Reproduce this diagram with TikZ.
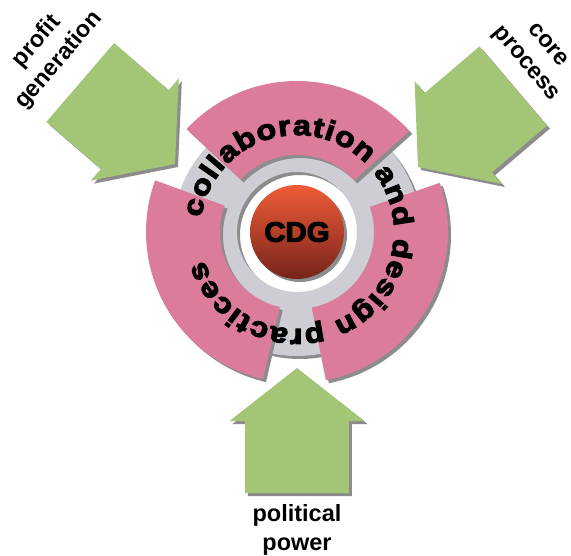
\documentclass[tikz,border=0pt]{standalone}
\usepackage{fontspec}
\setmainfont{Liberation Sans}
\newfontfamily\ringfont{Liberation Sans Bold}[FakeStretch=1.15,FakeBold=4]
\newfontfamily\cdgfont{Liberation Sans Bold}[FakeStretch=1.05,FakeBold=4]
\usetikzlibrary{decorations.text,shadows}

\definecolor{ringgray}{RGB}{205,205,211}
\definecolor{shadowgray}{RGB}{140,140,140}
\definecolor{segpink}{RGB}{219,124,155}
\definecolor{arrowgreen}{RGB}{165,197,118}
\definecolor{cdgtop}{RGB}{240,92,56}
\definecolor{cdgbottom}{RGB}{118,36,26}

% block arrow, tip at the origin, pointing along +x
\newcommand{\arrowpath}{(0,0) -- (-53,67.5) -- (-53,52) -- (-125,52) -- (-125,-52) -- (-53,-52) -- (-53,-67.5) -- cycle}

\tikzset{
  shadowed/.style={drop shadow={shadow xshift=3pt,shadow yshift=-3pt,fill=shadowgray,opacity=1}},
  sidetext/.style={font=\bfseries\fontsize{23.5}{29}\selectfont, align=center}
}

\begin{document}
\begin{tikzpicture}[x=1pt,y=1pt]
  \useasboundingbox (-297,-323) rectangle (274,232);
  % grey ring (outer edge counterclockwise, hole clockwise)
  \fill[ringgray, shadowed] (124,0) arc[start angle=0, end angle=360, radius=124] -- cycle
    (60,0) arc[start angle=0, end angle=-360, radius=60] -- cycle;
  % the three pink pieces
  \foreach \s/\e in {42/137,-79/19,160/257}
    \fill[segpink, shadowed] (\s:151) arc[start angle=\s, end angle=\e, radius=151]
      -- (\e:77) arc[start angle=\e, end angle=\s, radius=77] -- cycle;
  % centre ball
  \shade[top color=cdgtop, bottom color=cdgbottom, shadowed] (0,0) circle (47);
  \node[font=\cdgfont\fontsize{28}{28}\selectfont] (cdg) at (0,0) {CDG};
  % text running round the ring
  \path[decorate, decoration={text along path, text align=fit to path,
      text={|\ringfont\fontsize{28}{28}\selectfont|collaboration and design practices}}]
    (171.6:97) arc[start angle=171.6, end angle=-163, radius=97];
  % the three arrows
  \foreach \x/\y/\a in {-122/68/-40.7, 121/65/220.4, 0/-136/90} {
    \fill[shadowgray, shift={(\x+3,\y-3)}, rotate=\a] \arrowpath;
    \fill[arrowgreen, shift={(\x,\y)}, rotate=\a] \arrowpath;
  }
  \node[sidetext, rotate=49.3] (profit) at (-249,181) {profit\\generation};
  \node[sidetext, rotate=-49.6] (core) at (239,177) {core\\process};
  \node[sidetext] (power) at (0,-298) {political\\power};
\end{tikzpicture}
\end{document}
